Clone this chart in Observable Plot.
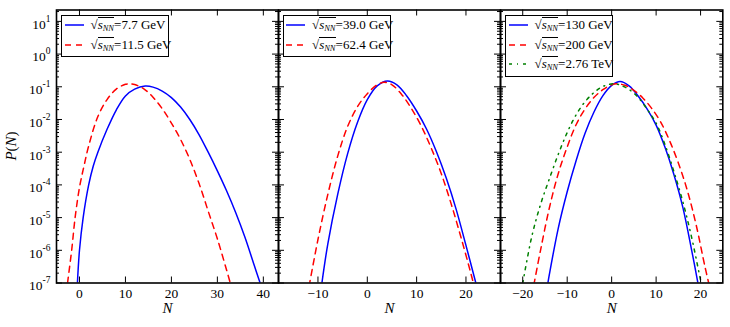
<!DOCTYPE html>
<html><head><meta charset="utf-8">
<script src="https://cdn.jsdelivr.net/npm/d3@7"></script>
<script src="https://cdn.jsdelivr.net/npm/@observablehq/plot@0.6"></script>
<style>
body{margin:0;background:#fff;}
#chart{position:relative;width:730px;height:327px;font-family:"Liberation Serif",serif;color:#000;background:#fff;overflow:hidden;}
#chart svg{position:absolute;left:0;top:0;}
.leg{position:absolute;border:1.5px solid #000;background:#fff;box-sizing:border-box;}
.ltext{position:absolute;font-size:13px;line-height:14px;white-space:nowrap;}
.ov{border-top:1px solid #000;padding-top:1px;display:inline-block;line-height:12px;}
.ov sub{font-size:8.5px;vertical-align:-2px;line-height:0;}
</style></head><body><div id="chart"></div>
<script>
// ---------- data ----------
// panel 1: sqrt(s_NN) = 7.7 GeV and 11.5 GeV
const n77  = [-0.45, 0, 0.8, 2, 3, 4, 6, 8, 10, 12, 14.3, 16, 18, 20, 22, 24, 26, 28, 30, 32, 34, 36, 38, 39.3];
const p77  = [1e-7, 1e-6, 1e-5, 1e-4, 3.80e-4, 1e-3, 5.01e-3, 1.95e-2, 5.25e-2, 8.51e-2, 1.05e-1, 9.77e-2, 7.41e-2, 4.68e-2, 2.40e-2, 1e-2, 3.47e-3, 1e-3, 2.69e-4, 6.61e-5, 1.41e-5, 2.51e-6, 3.55e-7, 1e-7];
const n115 = [-2.6, -1.7, -0.95, 0, 1, 2, 4, 6, 8, 10, 10.9, 12, 14, 16, 18, 20, 22, 24, 26, 28, 30, 32, 33];
const p115 = [1e-7, 1e-6, 1e-5, 8.32e-5, 3.89e-4, 1.55e-3, 1.23e-2, 4.07e-2, 8.51e-2, 1.19e-1, 1.23e-1, 1.17e-1, 8.71e-2, 4.79e-2, 2.14e-2, 7.76e-3, 2.45e-3, 6.03e-4, 1.12e-4, 1.58e-5, 2.24e-6, 2.51e-7, 7.94e-8];
// panel 2: 39.0 GeV and 62.4 GeV
const n390 = [-9.2, -8, -6, -4, -2, 0, 2, 4.1, 6, 8, 10, 12, 14, 16, 18, 20, 22];
const p390 = [1e-7, 1.58e-6, 5.13e-5, 8.91e-4, 8.13e-3, 4.07e-2, 1.07e-1, 1.51e-1, 1.15e-1, 5.25e-2, 1.82e-2, 5.13e-3, 1.05e-3, 1.62e-4, 1.82e-5, 1.41e-6, 1e-7];
const n624 = [-11.8, -10, -8, -6, -4, -2, 0, 2, 3.4, 5, 7, 9, 11, 13, 15, 17, 19, 21, 22];
const p624 = [7.94e-8, 2.14e-6, 5.13e-5, 7.59e-4, 6.03e-3, 2.45e-2, 6.17e-2, 1.15e-1, 1.38e-1, 1.15e-1, 5.75e-2, 2.09e-2, 6.03e-3, 1.29e-3, 2.19e-4, 2.63e-5, 2.45e-6, 1.95e-7, 5.01e-8];
// panel 3: 130 GeV, 200 GeV and 2.76 TeV
const n130 = [-14.4, -14, -12, -10, -8, -6, -4, -2, 0, 1.9, 4, 6, 8, 10, 12, 14, 16, 18, 19.5];
const p130 = [8.91e-8, 1.86e-7, 4.79e-6, 6.17e-5, 5.50e-4, 3.72e-3, 1.66e-2, 5.25e-2, 1.10e-1, 1.45e-1, 1.05e-1, 5.13e-2, 2.09e-2, 6.76e-3, 1.41e-3, 2.09e-4, 2.09e-5, 1e-6, 8.51e-8];
const n200 = [-17.5, -16, -14, -12, -10, -8, -6, -4, -2, 0, 1.2, 3, 5, 7, 9, 11, 13, 15, 17, 19, 21, 21.9];
const p200 = [8.71e-8, 1e-6, 2.0e-5, 2.24e-4, 1.45e-3, 6.92e-3, 2.09e-2, 4.68e-2, 8.13e-2, 1.15e-1, 1.23e-1, 1.11e-1, 7.76e-2, 4.57e-2, 2.19e-2, 8.51e-3, 2.29e-3, 4.68e-4, 6.92e-5, 6.03e-6, 3.09e-7, 9.12e-8];
const n2760 = [-20, -18, -16, -14, -12, -10, -8, -6, -4, -2, 0.3, 2, 4, 6, 8, 10, 12, 14, 16, 18, 20.1];
const p2760 = [9.77e-8, 2.51e-6, 2.51e-5, 1.55e-4, 8.71e-4, 3.98e-3, 1.38e-2, 3.47e-2, 6.61e-2, 1.02e-1, 1.23e-1, 1.12e-1, 8.13e-2, 4.68e-2, 2.04e-2, 7.76e-3, 1.70e-3, 2.57e-4, 3.09e-5, 2.45e-6, 1.02e-7];

// legend labels
const labels1 = ["7.7 GeV", "11.5 GeV"];
const labels2 = ["39.0 GeV", "62.4 GeV"];
const labels3 = ["130 GeV", "200 GeV", "2.76 TeV"];

// axes
const xDomain1 = [-5, 43.3], xDomain2 = [-18, 27], xDomain3 = [-25, 25];
const xTicks1 = [0, 10, 20, 30, 40];
const xTicks2 = [-10, 0, 10, 20];
const xTicks3 = [-20, -10, 0, 10, 20];
const yDomain = [1e-7, 22.3];
const yTicks = [1e-7, 1e-6, 1e-5, 1e-4, 1e-3, 1e-2, 1e-1, 1, 10];
const xTitle = "N";

// ---------- styles ----------
const solidBlue = {stroke: "#0000ff", dash: null};
const dashRed = {stroke: "#ff0000", dash: "6,5"};
const dotGreen = {stroke: "#008000", dash: "3,5,1,5"};

const series = (n, p) => n.map((v, i) => ({n: v, p: p[i]}));

const panels = [
  {left: 56, right: 278, xDomain: xDomain1, xTicks: xTicks1, yAxis: true,
   lines: [[series(n77, p77), solidBlue], [series(n115, p115), dashRed]],
   legend: {x: 61, y: 15, w: 107.5, labels: labels1, styles: [solidBlue, dashRed]}},
  {left: 278, right: 500, xDomain: xDomain2, xTicks: xTicks2, yAxis: false,
   lines: [[series(n390, p390), solidBlue], [series(n624, p624), dashRed]],
   legend: {x: 282.5, y: 15, w: 108.5, labels: labels2, styles: [solidBlue, dashRed]}},
  {left: 500, right: 722.3, xDomain: xDomain3, xTicks: xTicks3, yAxis: false,
   lines: [[series(n130, p130), solidBlue], [series(n200, p200), dashRed], [series(n2760, p2760), dotGreen]],
   legend: {x: 505, y: 15, w: 108, labels: labels3, styles: [solidBlue, dashRed, dotGreen]}}
];

const W = 730, H = 327, mTop = 9.5, mBottom = 44.5;
const innerH = H - mTop - mBottom;
const chart = document.getElementById("chart");
const SVGNS = "http://www.w3.org/2000/svg";

// minor log ticks
const minorY = [];
for (let e = -7; e <= 1; e++) for (let m = 2; m <= 9; m++) {
  const v = m * Math.pow(10, e);
  if (v > yDomain[0] && v < yDomain[1]) minorY.push(v);
}

panels.forEach(p => {
  const innerW = p.right - p.left;
  const marks = [];
  p.lines.forEach(([data, st]) => {
    marks.push(Plot.line(data, {x: "n", y: "p", stroke: st.stroke, strokeWidth: 1.5,
      strokeDasharray: st.dash || undefined, curve: "catmull-rom", clip: true}));
  });
  // inward ticks on all four sides
  marks.push(Plot.tickY(yTicks, {y: d => d, insetRight: innerW - 6, stroke: "#000", strokeWidth: 1}));
  marks.push(Plot.tickY(yTicks, {y: d => d, insetLeft: innerW - 6, stroke: "#000", strokeWidth: 1}));
  marks.push(Plot.tickY(minorY, {y: d => d, insetRight: innerW - 3, stroke: "#000", strokeWidth: 1}));
  marks.push(Plot.tickY(minorY, {y: d => d, insetLeft: innerW - 3, stroke: "#000", strokeWidth: 1}));
  marks.push(Plot.tickX(p.xTicks, {x: d => d, insetTop: innerH - 6, stroke: "#000", strokeWidth: 1}));
  marks.push(Plot.tickX(p.xTicks, {x: d => d, insetBottom: innerH - 6, stroke: "#000", strokeWidth: 1}));
  marks.push(Plot.frame({stroke: "#000", strokeWidth: 1.6}));
  marks.push(Plot.axisX(p.xTicks, {tickSize: 0, tickPadding: 5.5, label: null, fontSize: 13.5}));
  marks.push(Plot.text([xTitle], {frameAnchor: "bottom", dy: 30, fontStyle: "italic", fontSize: 15, fill: "#000"}));
  if (p.yAxis) {
    marks.push(Plot.axisY(yTicks, {tickSize: 0, tickPadding: 6, label: null, dy: 3, fontSize: 13.5,
      tickFormat: d => String(Math.round(Math.log10(d)))}));
  }
  const svg = Plot.plot({
    width: W, height: H,
    marginLeft: p.left, marginRight: W - p.right, marginTop: mTop, marginBottom: mBottom,
    x: {domain: p.xDomain},
    y: {type: "log", domain: yDomain, axis: p.yAxis ? undefined : null},
    style: {fontFamily: "'Liberation Serif', serif", fontSize: "13.5px", background: "transparent", color: "#000", overflow: "visible"},
    marks
  });
  if (p.yAxis) {
    svg.querySelectorAll('g[aria-label="y-axis tick label"] text').forEach(t => {
      const e = t.textContent;
      t.textContent = "10";
      const ts = document.createElementNS(SVGNS, "tspan");
      ts.setAttribute("dy", "-7");
      ts.setAttribute("font-size", "9.5");
      ts.textContent = e;
      t.appendChild(ts);
    });
    // y title P(N) with upright parentheses
    const yt = document.createElementNS(SVGNS, "text");
    yt.setAttribute("transform", `translate(13,${mTop + innerH / 2}) rotate(-90)`);
    yt.setAttribute("text-anchor", "middle");
    yt.setAttribute("dominant-baseline", "middle");
    yt.setAttribute("font-size", "15");
    yt.innerHTML = '<tspan font-style="italic">P</tspan>(<tspan font-style="italic">N</tspan>)';
    svg.appendChild(yt);
  }
  chart.appendChild(svg);
});

// legends (HTML overlays)
panels.forEach(p => {
  const L = p.legend;
  const box = document.createElement("div");
  box.className = "leg";
  const rows = L.labels.length;
  box.style.left = L.x + "px";
  box.style.top = L.y + "px";
  box.style.width = L.w + "px";
  box.style.height = (rows * 19.6 + 3) + "px";
  chart.appendChild(box);
  L.labels.forEach((lab, i) => {
    const yc = L.y + 10 + i * 19.6;
    const st = L.styles[i];
    const s = document.createElementNS(SVGNS, "svg");
    s.setAttribute("width", 20); s.setAttribute("height", 6);
    s.style.left = (L.x + 3.5) + "px"; s.style.top = (yc - 3) + "px";
    s.style.position = "absolute";
    const ln = document.createElementNS(SVGNS, "line");
    ln.setAttribute("x1", 0); ln.setAttribute("x2", 19); ln.setAttribute("y1", 3); ln.setAttribute("y2", 3);
    ln.setAttribute("stroke", st.stroke); ln.setAttribute("stroke-width", 1.5);
    if (st.dash) ln.setAttribute("stroke-dasharray", st.dash);
    s.appendChild(ln);
    chart.appendChild(s);
    const t = document.createElement("div");
    t.className = "ltext";
    t.style.left = (L.x + 29.5) + "px";
    t.style.top = (yc - 8) + "px";
    t.innerHTML = '√<span class="ov"><i>s</i><sub><i>NN</i></sub></span>=' + lab;
    chart.appendChild(t);
  });
});
</script></body></html>
